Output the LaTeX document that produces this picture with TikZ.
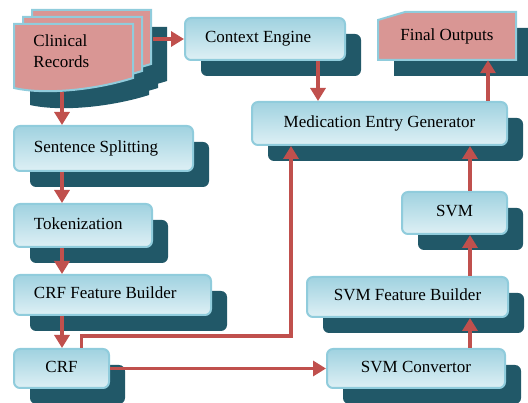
\documentclass[tikz,border=0pt]{standalone}
\usepackage{fontspec}
\setmainfont{Liberation Serif}
\usetikzlibrary{shadows,arrows.meta}

\definecolor{shdw}{RGB}{33,88,104}
\definecolor{edge}{RGB}{144,204,220}
\definecolor{boxtop}{RGB}{160,210,224}
\definecolor{boxbot}{RGB}{222,240,245}
\definecolor{rose}{RGB}{217,150,148}
\definecolor{link}{RGB}{192,80,77}

\tikzset{
  blk/.style={draw=edge, line width=2pt, rounded corners=6pt,
    top color=boxtop, bottom color=boxbot,
    general shadow={fill=shdw, shadow xshift=16pt, shadow yshift=-16pt},
    font=\fontsize{17}{21}\selectfont, text height=12pt, text depth=4pt},
  lblk/.style={blk, align=flush left, inner xsep=20pt, text width=#1},
  cblk/.style={blk, minimum width=#1},
  arr/.style={->, >={Triangle[width=15pt,length=13pt]}, draw=link, line width=3.3pt},
  sheet/.pic={\path[pic actions] (0,0) -- (119,0) -- (119,54)
    .. controls +(-38,12) and +(31,7) .. (0,64) -- cycle;},
  tab/.pic={\path[pic actions] (0,48) -- (0,8) -- (27,0) -- (138,0) -- (138,48) -- cycle;}
}

\begin{document}
\begin{tikzpicture}[x=1pt,y=-1pt]
	\useasboundingbox (0,0) rectangle (528,403);
	\coordinate (lspine) at (62,0);
	\coordinate (rspine) at (470,0);

	% stack of records
	\foreach \dx/\dy in {18/-14, 9/-7, 0/0}
		\pic[fill=shdw] at (30+\dx, 41+\dy) {sheet};
	\foreach \dx/\dy in {18/-14, 9/-7, 0/0}
		\pic[fill=rose, draw=edge, line width=2pt] at (14+\dx, 24+\dy) {sheet};
	\node[font=\fontsize{17}{21}\selectfont, text width=80pt, align=flush left,
		minimum width=119pt, minimum height=54pt, inner sep=0pt] (rec) at (73.5,51)
	{Clinical\\Records};

	% final outputs, cut corner
	\pic[fill=shdw] at (394,28) {tab};
	\pic[fill=rose, draw=edge, line width=2pt] at (378,12) {tab};
	\node[font=\fontsize{17}{21}\selectfont, minimum width=138pt, minimum height=48pt,
		inner sep=0pt] (out) at (447,36) {Final Outputs};

	\node[lblk=120pt, minimum height=42pt] (ctx) at (265,39) {Context Engine};
	\node[cblk=255pt, minimum height=43pt] (meg) at (379.5,123.5) {Medication Entry Generator};

	\node[lblk=139pt, minimum height=45pt] (ss) at (103.5,148.5) {Sentence Splitting};
	\node[lblk=98pt, minimum height=43pt] (tok) at (83,225.5) {Tokenization};
	\node[lblk=157pt, minimum height=40pt] (crfb) at (112.5,295) {CRF Feature Builder};
	\node[cblk=95pt, minimum height=39pt] (crf) at (61.5,368.5) {CRF};

	\node[cblk=105pt, minimum height=42pt] (svm) at (454.5,213) {SVM};
	\node[cblk=201pt, minimum height=40pt] (svmfb) at (407.5,297) {SVM Feature Builder};
	\node[cblk=178pt, minimum height=39pt] (svmc) at (416,368.5) {SVM Convertor};

	\draw[arr] ([xshift=20pt]rec.east |- ctx.west) -- (ctx.west);
	\draw[arr] ([yshift=-14pt]rec.south -| lspine) -- (ss.north -| lspine);
	\draw[arr] (ss.south -| lspine) -- (tok.north -| lspine);
	\draw[arr] (tok.south -| lspine) -- (crfb.north -| lspine);
	\draw[arr] (crfb.south -| lspine) -- (crf.north -| lspine);
	\draw[arr] ([xshift=53pt]ctx.south) -- ([xshift=53pt]ctx.south |- meg.north);
	\draw[arr] ([xshift=-20pt]meg.north east) -- ([xshift=-20pt]meg.north east |- out.south);
	\draw[arr] ([xshift=20pt]crf.north) -- ++(0,-12) -| ([xshift=40pt]meg.south west);
	\draw[arr] (crf.east) -- (svmc.west);
	\draw[arr] (svmc.north -| rspine) -- (svmfb.south -| rspine);
	\draw[arr] (svmfb.north -| rspine) -- (svm.south -| rspine);
	\draw[arr] (svm.north -| rspine) -- (meg.south -| rspine);
\end{tikzpicture}
\end{document}
